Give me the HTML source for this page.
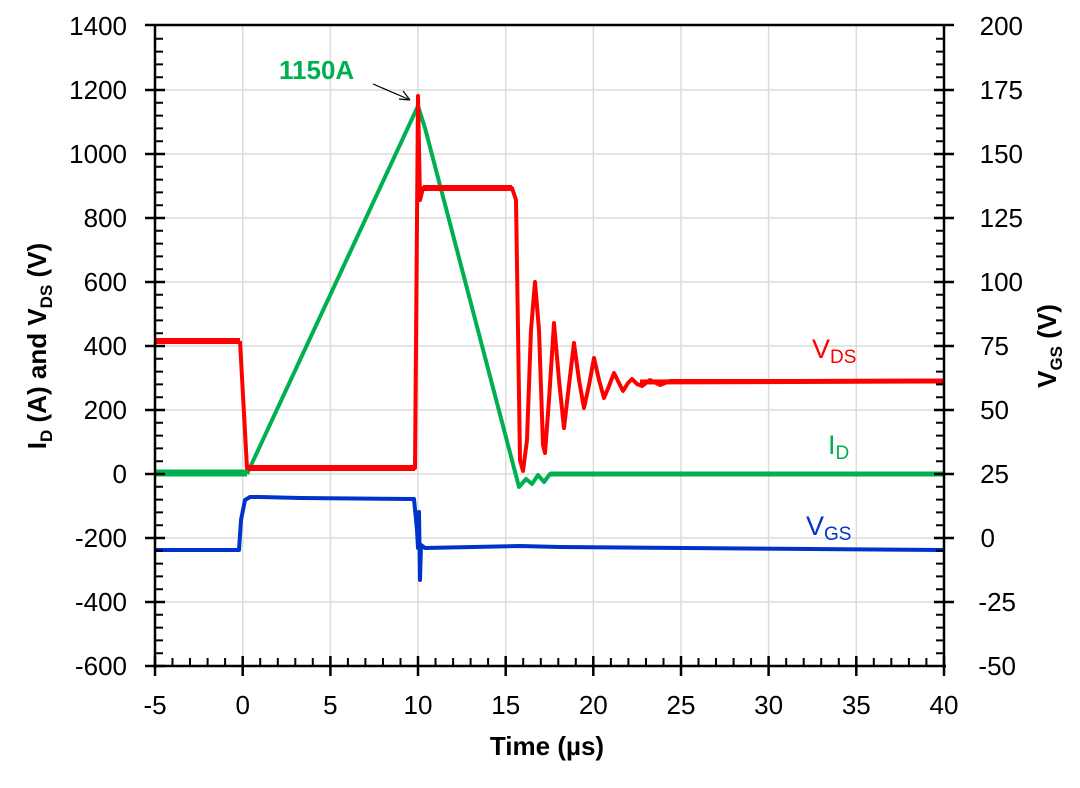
<!DOCTYPE html>
<html><head><meta charset="utf-8"><style>
html,body{margin:0;padding:0;background:#fff;}
svg text{font-family:"Liberation Sans",Arial,sans-serif;}
</style></head><body>
<svg width="1080" height="783" viewBox="0 0 1080 783" xmlns="http://www.w3.org/2000/svg">
<rect width="1080" height="783" fill="#fff"/>
<g stroke="#dcdcdc" stroke-width="1.5">
<line x1="330.4" y1="26" x2="330.4" y2="666"/><line x1="418" y1="26" x2="418" y2="666"/><line x1="505.7" y1="26" x2="505.7" y2="666"/><line x1="593.3" y1="26" x2="593.3" y2="666"/><line x1="681" y1="26" x2="681" y2="666"/><line x1="768.6" y1="26" x2="768.6" y2="666"/><line x1="856.3" y1="26" x2="856.3" y2="666"/><line x1="242.7" y1="26" x2="242.7" y2="666"/>
<line x1="155" y1="90" x2="944" y2="90"/><line x1="155" y1="154" x2="944" y2="154"/><line x1="155" y1="218" x2="944" y2="218"/><line x1="155" y1="282" x2="944" y2="282"/><line x1="155" y1="346" x2="944" y2="346"/><line x1="155" y1="410" x2="944" y2="410"/><line x1="155" y1="474" x2="944" y2="474"/><line x1="155" y1="538" x2="944" y2="538"/><line x1="155" y1="602" x2="944" y2="602"/>
</g>
<g fill="none" stroke-linejoin="round" stroke-width="4">
<polyline stroke="#00b050" stroke-width="7" points="155,473 247,473"/>
<polyline stroke="#00b050" stroke-width="5" points="550,474 944,474"/>
<polyline stroke="#00b050" points="247,474 418,106 425,128 519,487 526,479 532,484 538,475 544,482 550,474 944,474"/>
<polyline stroke="#ff0000" stroke-width="6" points="155,341 240,341"/>
<polyline stroke="#ff0000" stroke-width="6" points="248,468 415,468"/>
<polyline stroke="#ff0000" stroke-width="6" points="423,188 512,188"/>
<polyline stroke="#ff0000" stroke-width="5" points="640,382 944,381"/>
<polyline stroke="#ff0000" points="240,341 247,468 415,468 418,96 420,200 423,188 512,188 516,200 518,330 520,460 523,471 527,440 531,330 535,282 539,330 543,445 545,453 549,400 554,323 559,380 564,428 569,385 574,343 579,380 584,408 589,385 594,358 599,380 604,398 609,386 614,373 619,383 623,391 628,383 632,379 637,384 642,386 650,380 660,385 670,381 944,381"/>
<polyline stroke="#0033cc" points="155,550 239,550 241,520 245,500 250,497 260,497 300,498 414,499 417,530 418,548 419,512 420,580 421,545 425,548 520,546 560,547 944,550"/>
</g>
<g stroke="#000" stroke-width="2.5" fill="none">
<line x1="155" y1="25" x2="155" y2="668"/>
<line x1="944" y1="25" x2="944" y2="668"/>
<line x1="145" y1="25" x2="954" y2="25"/>
<line x1="153" y1="666" x2="946" y2="666"/>
</g>
<g stroke="#000" stroke-width="2.5">
<path d="M145,90h20M145,154h20M145,218h20M145,282h20M145,346h20M145,410h20M145,474h20M145,538h20M145,602h20M145,666h20"/>
<path d="M934,90h20M934,154h20M934,218h20M934,282h20M934,346h20M934,410h20M934,474h20M934,538h20M934,602h20"/>
<path d="M155,656v20M242.7,656v20M330.4,656v20M418,656v20M505.7,656v20M593.3,656v20M681,656v20M768.6,656v20M856.3,656v20M944,656v20"/>
</g>
<g stroke="#000" stroke-width="2">
<path d="M155,38.8h8M155,51.6h8M155,64.4h8M155,77.2h8M155,102.8h8M155,115.6h8M155,128.4h8M155,141.2h8M155,166.8h8M155,179.6h8M155,192.4h8M155,205.2h8M155,230.8h8M155,243.6h8M155,256.4h8M155,269.2h8M155,294.8h8M155,307.6h8M155,320.4h8M155,333.2h8M155,358.8h8M155,371.6h8M155,384.4h8M155,397.2h8M155,422.8h8M155,435.6h8M155,448.4h8M155,461.2h8M155,486.8h8M155,499.6h8M155,512.4h8M155,525.2h8M155,550.8h8M155,563.6h8M155,576.4h8M155,589.2h8M155,614.8h8M155,627.6h8M155,640.4h8M155,653.2h8"/>
<path d="M944,38.8h-8M944,51.6h-8M944,64.4h-8M944,77.2h-8M944,102.8h-8M944,115.6h-8M944,128.4h-8M944,141.2h-8M944,166.8h-8M944,179.6h-8M944,192.4h-8M944,205.2h-8M944,230.8h-8M944,243.6h-8M944,256.4h-8M944,269.2h-8M944,294.8h-8M944,307.6h-8M944,320.4h-8M944,333.2h-8M944,358.8h-8M944,371.6h-8M944,384.4h-8M944,397.2h-8M944,422.8h-8M944,435.6h-8M944,448.4h-8M944,461.2h-8M944,486.8h-8M944,499.6h-8M944,512.4h-8M944,525.2h-8M944,550.8h-8M944,563.6h-8M944,576.4h-8M944,589.2h-8M944,614.8h-8M944,627.6h-8M944,640.4h-8M944,653.2h-8"/>
<path d="M172.5,666v-8M190,666v-8M207.6,666v-8M225.1,666v-8M260.2,666v-8M277.8,666v-8M295.3,666v-8M312.8,666v-8M347.9,666v-8M365.4,666v-8M383,666v-8M400.5,666v-8M435.5,666v-8M453.1,666v-8M470.6,666v-8M488.1,666v-8M523.2,666v-8M540.8,666v-8M558.3,666v-8M575.8,666v-8M610.9,666v-8M628.4,666v-8M646,666v-8M663.5,666v-8M698.5,666v-8M716,666v-8M733.6,666v-8M751.1,666v-8M786.2,666v-8M803.7,666v-8M821.2,666v-8M838.8,666v-8M873.8,666v-8M891.3,666v-8M908.9,666v-8M926.4,666v-8"/>
</g>
<g font-size="26" fill="#000" text-anchor="end">
<text x="127" y="35">1400</text><text x="127" y="99">1200</text><text x="127" y="163">1000</text><text x="127" y="227">800</text><text x="127" y="291">600</text><text x="127" y="355">400</text><text x="127" y="419">200</text><text x="127" y="483">0</text><text x="127" y="547">-200</text><text x="127" y="611">-400</text><text x="127" y="675">-600</text>
</g>
<g font-size="26" fill="#000" text-anchor="end">
<text x="1023" y="35">200</text><text x="1023" y="99">175</text><text x="1023" y="163">150</text><text x="1023" y="227">125</text><text x="1023" y="291">100</text><text x="1009" y="355">75</text><text x="1009" y="419">50</text><text x="1009" y="483">25</text><text x="995" y="547">0</text><text x="1016" y="611">-25</text><text x="1016" y="675">-50</text>
</g>
<g font-size="26" fill="#000" text-anchor="middle">
<text x="155" y="714">-5</text><text x="242.7" y="714">0</text><text x="330.4" y="714">5</text><text x="418" y="714">10</text><text x="505.7" y="714">15</text><text x="593.3" y="714">20</text><text x="681" y="714">25</text><text x="768.6" y="714">30</text><text x="856.3" y="714">35</text><text x="944" y="714">40</text>
</g>
<text x="547" y="755" font-size="26" font-weight="bold" text-anchor="middle">Time (µs)</text>
<text transform="translate(46,346) rotate(-90)" font-size="26" font-weight="bold" text-anchor="middle">I<tspan font-size="17" dy="6">D</tspan><tspan dy="-6"> (A) and V</tspan><tspan font-size="17" dy="6">DS</tspan><tspan dy="-6"> (V)</tspan></text>
<text transform="translate(1056,346) rotate(-90)" font-size="26" font-weight="bold" text-anchor="middle">V<tspan font-size="17" dy="6">GS</tspan><tspan dy="-6"> (V)</tspan></text>
<text x="279" y="79" font-size="26" font-weight="bold" fill="#00b050">1150A</text>
<line x1="373" y1="84" x2="408" y2="99" stroke="#000" stroke-width="1.2"/>
<path d="M410,100 L399,99 M410,100 L403,91" stroke="#000" stroke-width="1.2" fill="none"/>
<text x="812" y="358" font-size="27" fill="#ff0000">V<tspan font-size="19" dy="5">DS</tspan></text>
<text x="828" y="454" font-size="27" fill="#00b050">I<tspan font-size="19" dy="5">D</tspan></text>
<text x="806" y="535" font-size="27" fill="#0033cc">V<tspan font-size="19" dy="5">GS</tspan></text>
</svg>
</body></html>
